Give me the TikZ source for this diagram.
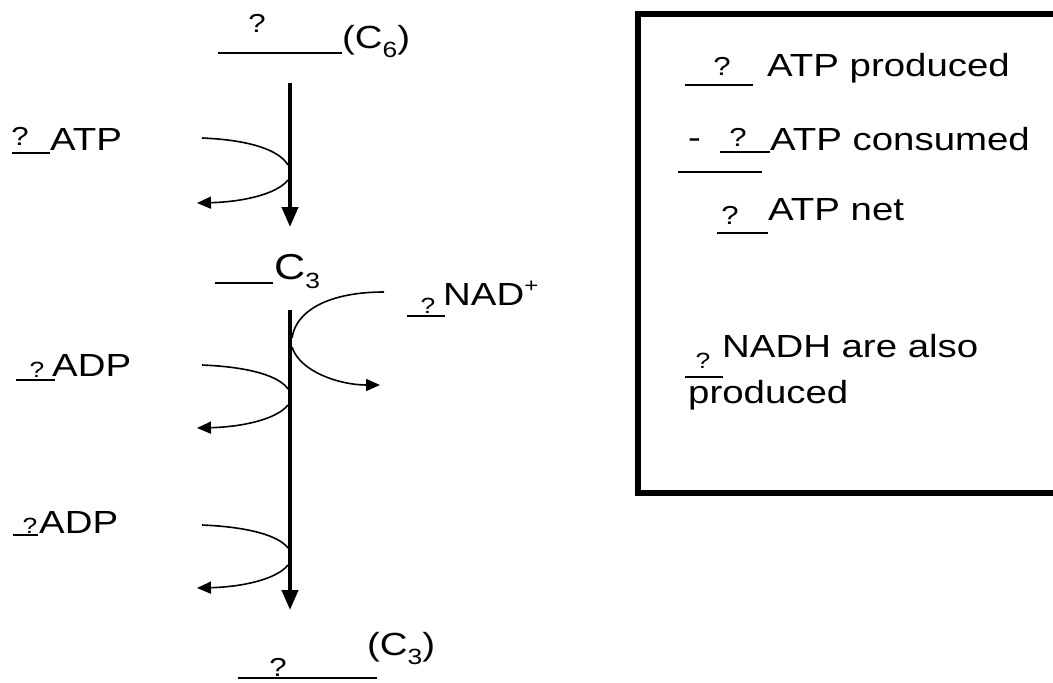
\documentclass[tikz,border=0pt]{standalone}
\usepackage{fontspec}
\setmainfont{Liberation Sans}[FakeStretch=1.2]
\usetikzlibrary{arrows.meta}
\begin{document}
\begin{tikzpicture}[x=1pt,y=-1pt,
  txt/.style={inner sep=0pt, anchor=base west, font=\fontsize{32}{38}\selectfont},
  big/.style={inner sep=0pt, anchor=base west, font=\fontsize{36}{40}\selectfont},
  q/.style={inner sep=0pt, anchor=base, font=\fontsize{26}{30}\selectfont},
  qs/.style={inner sep=0pt, anchor=base, font=\fontsize{22}{26}\selectfont},
  blank/.style={line width=1.6pt},
  mainarr/.style={line width=4pt, -{Triangle[length=20pt,width=16pt]}},
  side/.style={line width=1.6pt},
  sidearr/.style={line width=1.6pt, -{Triangle[length=14pt,width=12pt]}},
  frame/.style={line width=6pt}]
\useasboundingbox (0,0) rectangle (1053,683);
\clip (0,0) rectangle (1053,683);
\newcommand{\sub}[1]{\raisebox{-9pt}{\fontsize{22}{24}\selectfont #1}}

% top C6
\node[q] (qtop) at (257,32) {?};
\coordinate (t1) at (218,53); \coordinate (t2) at (342,53);
\draw[blank] (t1) -- (t2);
\node[txt] (c6) at (342,48) {(C\sub{6})};

% first arrow
\coordinate (v1s) at (290,83); \coordinate (v1e) at (290,227);
\draw[mainarr] (v1s) -- (v1e);

% ATP left
\node[q] (qatp) at (20,145) {?};
\coordinate (ua1) at (12,153); \coordinate (ua2) at (50,153);
\draw[blank] (ua1) -- (ua2);
\node[txt] (atp) at (50,150) {ATP};
\coordinate (a1) at (202,138); \coordinate (a2) at (288,165);
\draw[side] (a1) .. controls (250,140) and (279,150) .. (a2);
\coordinate (a3) at (288,180); \coordinate (a4) at (197,203);
\draw[sidearr] (a3) .. controls (276,195) and (240,202) .. (a4);

% middle C3
\coordinate (m1) at (215,283); \coordinate (m2) at (273,283);
\draw[blank] (m1) -- (m2);
\node[big] (c3m) at (274,279) {C\sub{3}};

% second arrow
\coordinate (v2s) at (290,310); \coordinate (v2e) at (290,610);
\draw[mainarr] (v2s) -- (v2e);

% NAD+
\coordinate (un1) at (407,316); \coordinate (un2) at (445,316);
\draw[blank] (un1) -- (un2);
\node[qs] (qnad) at (428,313) {?};
\node[txt] (nad) at (443,305) {NAD\raisebox{13pt}{\fontsize{20}{22}\selectfont +}};
\coordinate (n1) at (384,292); \coordinate (n2) at (292,338);
\draw[side] (n1) .. controls (330,292) and (296,310) .. (n2);
\coordinate (n3) at (292,347); \coordinate (n4) at (380,385);
\draw[sidearr] (n3) .. controls (300,372) and (340,385) .. (n4);

% ADP 1
\coordinate (ud1) at (16,380); \coordinate (ud2) at (55,380);
\draw[blank] (ud1) -- (ud2);
\node[qs] (qadp1) at (37,377) {?};
\node[txt] (adp1) at (52,376) {ADP};
\coordinate (d1) at (202,365); \coordinate (d2) at (288,389);
\draw[side] (d1) .. controls (250,367) and (279,376) .. (d2);
\coordinate (d3) at (288,405); \coordinate (d4) at (197,428);
\draw[sidearr] (d3) .. controls (276,420) and (240,427) .. (d4);

% ADP 2
\coordinate (ue1) at (13,535); \coordinate (ue2) at (38,535);
\draw[blank] (ue1) -- (ue2);
\node[qs] (qadp2) at (30,533) {?};
\node[txt] (adp2) at (39,533) {ADP};
\coordinate (e1) at (202,525); \coordinate (e2) at (288,548);
\draw[side] (e1) .. controls (250,527) and (279,536) .. (e2);
\coordinate (e3) at (288,565); \coordinate (e4) at (197,588);
\draw[sidearr] (e3) .. controls (276,580) and (240,587) .. (e4);

% bottom C3
\node[txt] (c3b) at (367,655) {(C\sub{3})};
\coordinate (bb1) at (238,678); \coordinate (bb2) at (377,678);
\draw[blank] (bb1) -- (bb2);
\node[q] (qbot) at (278,676) {?};

% box
\coordinate (boxa) at (638,14); \coordinate (boxb) at (1080,493);
\draw[frame] (boxa) rectangle (boxb);

\node[q] (qp) at (722,75) {?};
\coordinate (l1a) at (685,85); \coordinate (l1b) at (753,85);
\draw[blank] (l1a) -- (l1b);
\node[txt] (prod) at (767,76) {ATP produced};

\node[txt] (minus) at (688,148) {-};
\node[q] (qc) at (738,146) {?};
\coordinate (l2a) at (720,152); \coordinate (l2b) at (770,152);
\draw[blank] (l2a) -- (l2b);
\node[txt] (cons) at (770,150) {ATP consumed};

\coordinate (s1) at (678,172); \coordinate (s2) at (762,172);
\draw[blank] (s1) -- (s2);

\node[q] (qn) at (730,224) {?};
\coordinate (l3a) at (717,233); \coordinate (l3b) at (768,233);
\draw[blank] (l3a) -- (l3b);
\node[txt] (net) at (768,220) {ATP net};

\node[qs] (qnadh) at (703,368) {?};
\coordinate (l4a) at (685,377); \coordinate (l4b) at (723,377);
\draw[blank] (l4a) -- (l4b);
\node[txt] (nadh) at (722,357) {NADH are also};
\node[txt] (prod2) at (688,403) {produced};
\end{tikzpicture}
\end{document}
